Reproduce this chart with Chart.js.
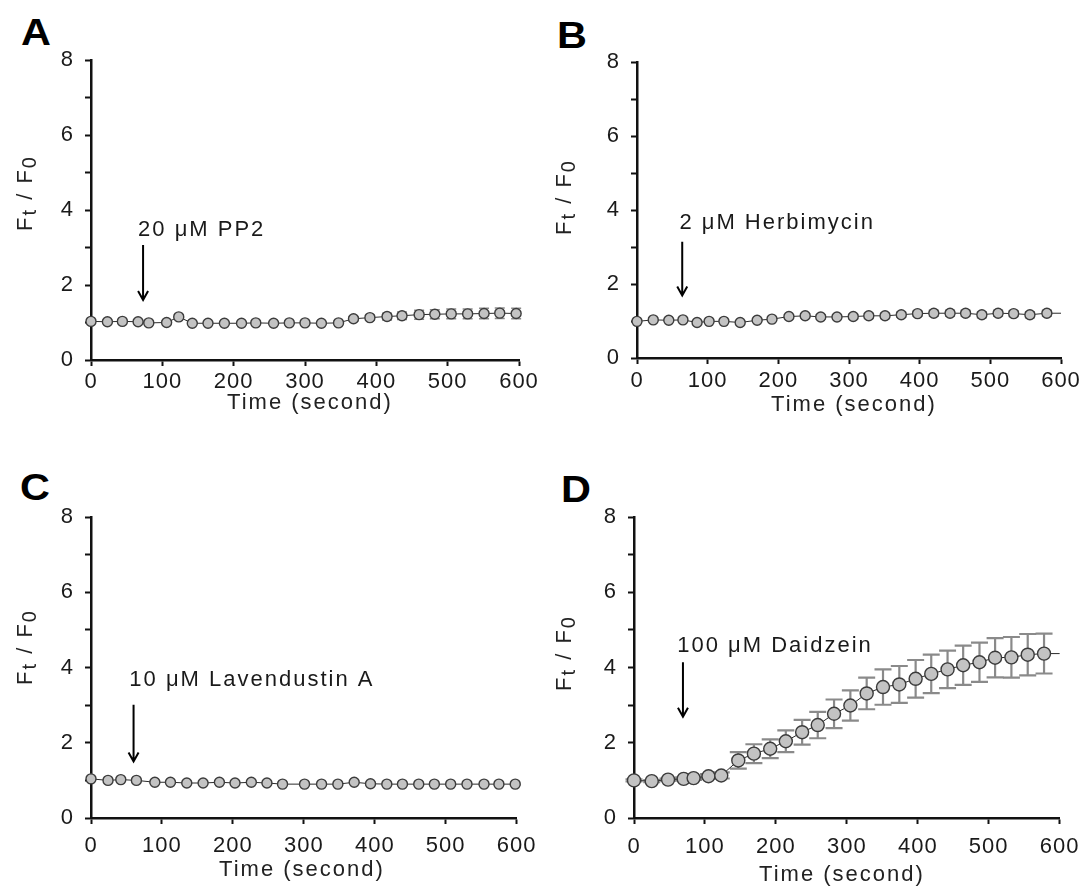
<!DOCTYPE html>
<html>
<head>
<meta charset="utf-8">
<script src="https://cdn.jsdelivr.net/npm/chart.js@4.4.1/dist/chart.umd.min.js"></script>
<style>
  body { margin: 0; background: #fff; width: 1088px; height: 892px; position: relative; overflow: hidden; }
  canvas { position: absolute; }
  .letter { position: absolute; font: bold 37px "Liberation Sans", Arial, sans-serif; line-height: 37px; color: #000; transform: scaleX(1.12); transform-origin: left top; }
</style>
</head>
<body>
<div class="letter" style="left:21px;top:14px">A</div>
<div class="letter" style="left:557px;top:17px">B</div>
<div class="letter" style="left:20px;top:469px">C</div>
<div class="letter" style="left:561px;top:471px">D</div>

<canvas id="chartA" width="544" height="440" style="left:0;top:0"></canvas>
<canvas id="chartB" width="544" height="440" style="left:544px;top:0"></canvas>
<canvas id="chartC" width="544" height="452" style="left:0;top:440px"></canvas>
<canvas id="chartD" width="544" height="452" style="left:544px;top:440px"></canvas>

<script>
// ---- data (time in s, Ft/F0, +/- error) ----
const xTicks = [0, 100, 200, 300, 400, 500, 600];
const yTicks = [0, 2, 4, 6, 8];

const timesA = [0, 23, 44, 66, 81, 106, 123, 142, 164, 187, 211, 231, 256, 278, 300, 323, 347, 368, 391, 415, 436, 460, 482, 505, 528, 551, 573, 596];
const valuesA = [1.03, 1.02, 1.03, 1.02, 0.99, 1.0, 1.15, 0.98, 0.98, 0.98, 0.98, 0.99, 0.98, 0.99, 0.99, 0.98, 0.99, 1.10, 1.13, 1.16, 1.18, 1.21, 1.22, 1.23, 1.23, 1.24, 1.25, 1.24];
const errorsA = [0.02, 0.02, 0.02, 0.02, 0.02, 0.02, 0.02, 0.02, 0.02, 0.02, 0.02, 0.02, 0.02, 0.02, 0.02, 0.02, 0.02, 0.06, 0.07, 0.09, 0.10, 0.12, 0.12, 0.13, 0.13, 0.14, 0.14, 0.14];

const timesB = [0, 23, 45, 65, 85, 102, 123, 146, 170, 191, 215, 238, 260, 283, 306, 328, 351, 374, 397, 420, 443, 465, 488, 511, 533, 556, 580, 600];
const valuesB = [0.99, 1.03, 1.02, 1.03, 0.96, 0.99, 0.99, 0.96, 1.02, 1.05, 1.12, 1.14, 1.11, 1.11, 1.12, 1.14, 1.14, 1.17, 1.20, 1.21, 1.21, 1.21, 1.17, 1.21, 1.20, 1.17, 1.21, 1.21];
const errorsB = [0.02, 0.02, 0.02, 0.03, 0.03, 0.03, 0.03, 0.03, 0.04, 0.04, 0.05, 0.05, 0.06, 0.06, 0.06, 0.07, 0.07, 0.07, 0.07, 0.08, 0.08, 0.08, 0.08, 0.08, 0.08, 0.08, 0.08, 0];

const timesC = [0, 24, 42, 64, 90, 112, 135, 158, 181, 203, 226, 248, 270, 301, 325, 348, 371, 394, 417, 439, 462, 484, 507, 530, 554, 575, 598];
const valuesC = [1.04, 1.0, 1.02, 1.0, 0.95, 0.95, 0.93, 0.93, 0.95, 0.93, 0.95, 0.93, 0.90, 0.90, 0.90, 0.90, 0.95, 0.91, 0.90, 0.90, 0.90, 0.90, 0.90, 0.90, 0.90, 0.90, 0.90];
const errorsC = [0.02, 0.02, 0.02, 0.02, 0.03, 0.03, 0.03, 0.03, 0.03, 0.03, 0.03, 0.03, 0.03, 0.03, 0.03, 0.03, 0.03, 0.03, 0.03, 0.03, 0.03, 0.03, 0.03, 0.03, 0.03, 0.03, 0.03];

const timesD = [0, 25, 48, 70, 84, 105, 123, 147, 169, 192, 214, 237, 259, 282, 305, 328, 351, 374, 397, 419, 442, 464, 487, 509, 532, 555, 578, 600];
const valuesD = [1.0, 0.98, 1.02, 1.04, 1.06, 1.11, 1.13, 1.53, 1.71, 1.84, 2.04, 2.28, 2.47, 2.77, 2.99, 3.31, 3.48, 3.55, 3.70, 3.83, 3.95, 4.06, 4.14, 4.26, 4.27, 4.34, 4.37, 4.37];
const errorsD = [0.03, 0.03, 0.03, 0.04, 0.05, 0.06, 0.08, 0.22, 0.25, 0.25, 0.29, 0.33, 0.35, 0.38, 0.40, 0.42, 0.47, 0.49, 0.50, 0.51, 0.50, 0.52, 0.52, 0.52, 0.54, 0.55, 0.53, 0];

// treatment notes: [label, time where text starts, y of text, arrow time, arrow top, arrow tip]
const noteA = ['20 \u03bcM PP2', 66, 3.47, 73, 3.07, 1.6];
const noteB = ['2 \u03bcM Herbimycin', 60, 3.66, 64, 3.14, 1.69];
const noteC = ['10 \u03bcM Lavendustin A', 54, 3.66, 60, 3.01, 1.5];
const noteD = ['100 \u03bcM Daidzein', 61, 4.56, 69, 4.14, 2.69];

const FONT = '"Liberation Sans", Arial, sans-serif';
const INK = '#1a1a1a';

// draws error bars, the arrow note and axis titles for one panel
function extras(cfg) {
  return {
    id: 'extras',
    beforeDraw(chart) {
      chart.ctx.letterSpacing = '1px';
    },
    beforeDatasetsDraw(chart) {
      const ctx = chart.ctx, xs = chart.scales.x, ys = chart.scales.y;
      ctx.save();
      ctx.strokeStyle = '#8a8a8a';
      ctx.lineWidth = cfg.barWidth;
      cfg.times.forEach((t, i) => {
        const e = cfg.errors[i];
        if (!e) return;
        const x = xs.getPixelForValue(t);
        const y1 = ys.getPixelForValue(cfg.values[i] + e);
        const y2 = ys.getPixelForValue(cfg.values[i] - e);
        ctx.beginPath();
        ctx.moveTo(x, y1); ctx.lineTo(x, y2);
        ctx.moveTo(x - cfg.cap, y1); ctx.lineTo(x + cfg.cap, y1);
        ctx.moveTo(x - cfg.cap, y2); ctx.lineTo(x + cfg.cap, y2);
        ctx.stroke();
      });
      ctx.restore();
    },
    afterDraw(chart) {
      const ctx = chart.ctx, xs = chart.scales.x, ys = chart.scales.y;
      const n = cfg.note;
      ctx.save();
      ctx.letterSpacing = '2px';
      ctx.fillStyle = INK;
      ctx.font = '22px ' + FONT;
      ctx.textBaseline = 'middle';
      ctx.textAlign = 'left';
      ctx.fillText(n[0], xs.getPixelForValue(n[1]), ys.getPixelForValue(n[2]));

      // arrow
      const ax = xs.getPixelForValue(n[3]);
      const top = ys.getPixelForValue(n[4]), tip = ys.getPixelForValue(n[5]);
      ctx.strokeStyle = '#000';
      ctx.lineWidth = 2;
      ctx.beginPath();
      ctx.moveTo(ax, top); ctx.lineTo(ax, tip);
      ctx.moveTo(ax - 5, tip - 9); ctx.lineTo(ax, tip); ctx.lineTo(ax + 5, tip - 9);
      ctx.stroke();

      // x title
      ctx.textAlign = 'center';
      ctx.fillStyle = '#222';
      ctx.fillText('Time (second)', cfg.xTitle[0], cfg.xTitle[1]);

      // y title  Ft / F0 with subscripts
      const parts = [['F', 22, 0], ['t', 20, 4], [' / F', 22, 0], ['0', 20, 4]];
      let w = 0;
      parts.forEach(p => { ctx.font = p[1] + 'px ' + FONT; w += ctx.measureText(p[0]).width; });
      ctx.translate(cfg.yTitle[0], cfg.yTitle[1]);
      ctx.rotate(-Math.PI / 2);
      ctx.textAlign = 'left';
      let cx = -w / 2;
      parts.forEach(p => {
        ctx.font = p[1] + 'px ' + FONT;
        ctx.fillText(p[0], cx, p[2]);
        cx += ctx.measureText(p[0]).width;
      });
      ctx.restore();
    }
  };
}

function makePanel(id, times, values, errors, note, look) {
  const canvas = document.getElementById(id);
  const W = canvas.width, H = canvas.height;
  const cfg = Object.assign({ times, values, errors, note }, look);
  const points = times.map((t, i) => ({ x: t, y: values[i] }));
  const axisLine = { color: '#111', width: 2.5 };
  return new Chart(canvas, {
    type: 'line',
    data: {
      datasets: [{
        data: points,
        borderColor: '#2a2a2a',
        borderWidth: 1,
        pointBackgroundColor: '#c3c3c3',
        pointBorderColor: '#3c3c3c',
        pointBorderWidth: 1.4,
        pointRadius: ctx => (look.tail && ctx.dataIndex === times.length - 1) ? 0 : look.r,
        tension: 0,
        clip: false
      }]
    },
    options: {
      responsive: false,
      animation: false,
      events: [],
      layout: { padding: { left: 0, top: look.area[1], right: W - look.area[2], bottom: H - look.area[3] - 60 } },
      plugins: { legend: { display: false }, tooltip: { enabled: false } },
      scales: {
        x: {
          type: 'linear', min: xTicks[0], max: xTicks[xTicks.length - 1],
          afterFit: s => { s.height = 60; },
          afterBuildTicks: s => { s.ticks = xTicks.map(v => ({ value: v })); },
          ticks: { color: INK, font: { family: FONT, size: 22 }, padding: look.xPad, maxRotation: 0, autoSkip: false },
          grid: { drawOnChartArea: false, tickLength: 6, tickWidth: 2, color: '#111' },
          border: axisLine
        },
        y: {
          min: 0, max: 8,
          afterFit: s => { s.width = look.area[0]; },
          ticks: {
            stepSize: 1, color: INK, font: { family: FONT, size: 22 }, padding: 11,
            callback: v => yTicks.includes(v) ? v : ''
          },
          grid: { drawOnChartArea: false, tickLength: 6, tickWidth: 2, color: '#111' },
          border: axisLine
        }
      }
    },
    plugins: [extras(cfg)]
  });
}

// area: [left, top, right, bottom] of the plot inside each canvas
makePanel('chartA', timesA, valuesA, errorsA, noteA,
  { area: [91, 60, 519, 360], r: 5, cap: 5, barWidth: 1.5, xPad: 3, xTitle: [310, 403], yTitle: [26, 193] });
makePanel('chartB', timesB, valuesB, errorsB, noteB,
  { area: [93, 62, 517, 358], r: 5, cap: 5, barWidth: 1.5, xPad: 4, xTitle: [310, 405], yTitle: [21, 197], tail: true });
makePanel('chartC', timesC, valuesC, errorsC, noteC,
  { area: [91, 77, 518, 378], r: 5, cap: 5, barWidth: 1.5, xPad: 9, xTitle: [302, 430], yTitle: [26, 207] });
makePanel('chartD', timesD, valuesD, errorsD, noteD,
  { area: [90, 77, 518, 378], r: 6.5, cap: 8.5, barWidth: 2.2, xPad: 10, xTitle: [298, 435], yTitle: [21, 213], tail: true });
</script>
</body>
</html>
